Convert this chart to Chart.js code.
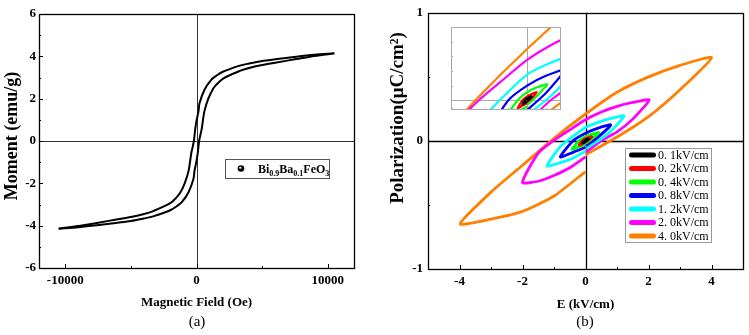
<!DOCTYPE html>
<html lang="en">
<head>
<meta charset="UTF-8" />
<title>M-H and P-E loops</title>
<style>
  body { margin: 0; background: #fff; width: 749px; height: 335px; position: relative; overflow: hidden; }
  canvas { position: absolute; }
  #chartA { left: 0; top: 0; }
  #chartB { left: 374px; top: 0; }
  #inset { left: 450px; top: 26px; }
  .tag { position: absolute; top: 313px; font-family: "Liberation Serif", serif; font-size: 15px; transform: translateX(-50%); }
</style>
</head>
<body>
<canvas id="chartA" width="375" height="335"></canvas>
<canvas id="chartB" width="375" height="335"></canvas>
<canvas id="inset" width="112" height="85"></canvas>
<div class="tag" style="left:197px">(a)</div>
<div class="tag" style="left:585px">(b)</div>
<script src="https://cdn.jsdelivr.net/npm/chart.js"></script>
<script>
// ---- (a) M-H loop ----
const fieldDown = [10500, 9000, 7600, 6000, 5000, 4000, 3300, 2000, 1500, 1100, 600, 230, 150, 50, 0, -100, -200, -300, -400, -600, -900, -1245, -1500, -2000, -3300, -4000, -5000, -6000, -7600, -9000, -10500];
const momentDown = [4.14, 4.07, 3.98, 3.86, 3.78, 3.66, 3.56, 3.27, 3.08, 2.88, 2.41, 1.78, 1.4, 1.1, 0.95, 0.55, 0.0, -0.3, -0.58, -1.4, -2.0, -2.45, -2.65, -2.94, -3.31, -3.45, -3.59, -3.70, -3.87, -4.02, -4.14];
const fieldUp = [-10500, -9000, -7600, -6000, -5000, -4000, -3300, -2000, -1500, -1100, -600, -230, -150, -50, 0, 100, 200, 300, 400, 600, 900, 1245, 1500, 2000, 3300, 4000, 5000, 6000, 7600, 9000, 10500];
const momentUp = [-4.14, -4.07, -3.98, -3.86, -3.78, -3.66, -3.56, -3.27, -3.08, -2.88, -2.41, -1.78, -1.4, -1.1, -0.95, -0.55, 0.0, 0.3, 0.58, 1.4, 2.0, 2.45, 2.65, 2.94, 3.31, 3.45, 3.59, 3.70, 3.87, 4.02, 4.14];
const sampleName = 'Bi0.9Ba0.1FeO3';
const sampleParts = [['Bi', 0], ['0.9', 1], ['Ba', 0], ['0.1', 1], ['FeO', 0], ['3', 1]];
const hMajor = [-10000, 0, 10000];
const hMinor = [-5000, 5000];
const mMajor = [-6, -4, -2, 0, 2, 4, 6];
const mMinor = [-5, -3, -1, 1, 3, 5];

// ---- (b) P-E loops (E in kV/cm, P in uC/cm2) ----
const loopLabels = ['0. 1kV/cm', '0. 2kV/cm', '0. 4kV/cm', '0. 8kV/cm', '1. 2kV/cm', '2. 0kV/cm', '4. 0kV/cm'];
const e01 = [0, 0.05, 0.1, 0.05, 0, -0.05, -0.1, -0.05, 0];
const p01 = [-0.004, 0.004, 0.016, 0.013, 0.008, 0.0, -0.016, -0.011, -0.006];
const e02 = [0, 0.1, 0.2, 0.1, 0, -0.1, -0.2, -0.1, 0];
const p02 = [-0.008, 0.009, 0.033, 0.026, 0.016, 0.0, -0.033, -0.022, -0.012];
const e04 = [0, 0.2, 0.43, 0.2, 0, -0.2, -0.43, -0.2, 0];
const p04 = [-0.02, 0.016, 0.065, 0.052, 0.032, 0.0, -0.065, -0.046, -0.026];
const e08 = [0, 0.4, 0.8, 0.4, 0, -0.4, -0.8, -0.4, 0];
const p08 = [-0.04, 0.03, 0.125, 0.1, 0.06, 0.0, -0.125, -0.09, -0.05];
const e12 = [0, 0.4, 0.8, 1.22, 0.8, 0.4, 0, -0.4, -0.8, -1.22, -0.8, -0.4, 0];
const p12 = [-0.06, 0.0, 0.075, 0.195, 0.175, 0.145, 0.105, 0.035, -0.045, -0.195, -0.17, -0.135, -0.08];
const e20 = [0, 0.5, 1, 1.5, 2.02, 1.5, 1, 0.5, 0, -0.5, -1, -1.5, -2.0, -1.5, -1, -0.5, 0];
const p20 = [-0.09, 0.0, 0.07, 0.17, 0.32, 0.3, 0.27, 0.225, 0.165, 0.086, 0.005, -0.095, -0.324, -0.315, -0.27, -0.21, -0.125];
const e40 = [0, 1, 2, 3, 4, 3, 2, 1, 0, -1, -2, -3, -3.98, -3, -2, -1, 0];
const p40 = [-0.11, 0.03, 0.19, 0.4, 0.65, 0.59, 0.5, 0.38, 0.21, 0.02, -0.19, -0.4, -0.648, -0.61, -0.55, -0.43, -0.24];
const loopE = [e01, e02, e04, e08, e12, e20, e40];
const loopP = [p01, p02, p04, p08, p12, p20, p40];
const loopColors = ['#000000', '#ff0000', '#00ff00', '#0000ff', '#00ffff', '#ff00ff', '#ff8000'];
const eMajor = [-4, -2, 0, 2, 4];
const eMinor = [-3, -1, 1, 3];
const pMajor = [-1, 0, 1];
const pMinor = [-0.5, 0.5];
// inset: zoomed view round the small loops
const insetETicks = [-1.6, -1.2, -0.8, -0.4, 0, 0.4];
const insetPTicks = [0, 0.06, 0.12, 0.18, 0.24];

const serif = "'Liberation Serif', 'Times New Roman', serif";
const pts = (xs, ys) => xs.map((v, i) => ({ x: v, y: ys[i] }));

// frame, zero lines and inward ticks
const frame = {
  id: 'frame',
  beforeDatasetsDraw(chart, args, o) {
    const { ctx, chartArea: a, scales: { x, y } } = chart;
    ctx.save();
    ctx.strokeStyle = o.zeroColor;
    ctx.lineWidth = o.zeroWidth;
    const x0 = Math.round(x.getPixelForValue(0)) + 0.5, y0 = Math.round(y.getPixelForValue(0)) + 0.5;
    ctx.beginPath();
    ctx.moveTo(x0, a.top); ctx.lineTo(x0, a.bottom);
    ctx.moveTo(a.left, y0); ctx.lineTo(a.right, y0);
    ctx.stroke();
    ctx.restore();
  },
  afterDatasetsDraw(chart, args, o) {
    const { ctx, chartArea: a, scales: { x, y } } = chart;
    ctx.save();
    ctx.strokeStyle = o.color;
    ctx.lineWidth = 1;
    ctx.beginPath();
    const tx = (vals, len) => vals.forEach(v => {
      const p = Math.round(x.getPixelForValue(v)) + 0.5;
      ctx.moveTo(p, a.bottom); ctx.lineTo(p, a.bottom - len);
    });
    const ty = (vals, len) => vals.forEach(v => {
      const p = Math.round(y.getPixelForValue(v)) + 0.5;
      ctx.moveTo(a.left, p); ctx.lineTo(a.left + len, p);
    });
    tx(o.xMajor, o.major); tx(o.xMinor, o.minor);
    ty(o.yMajor, o.major); ty(o.yMinor, o.minor);
    ctx.stroke();
    ctx.lineWidth = o.width;
    ctx.strokeRect(Math.round(a.left) + 0.5, Math.round(a.top) + 0.5, Math.round(a.width), Math.round(a.height));
    // rotated y-axis title
    ctx.translate(o.titleX, o.titleY);
    ctx.rotate(-Math.PI / 2);
    ctx.fillStyle = '#000';
    ctx.font = 'bold ' + o.titleSize + 'px ' + serif;
    ctx.textAlign = 'center';
    ctx.textBaseline = 'middle';
    ctx.fillText(o.title, 0, 0);
    ctx.restore();
  }
};

// (a) sample key with subscripts
const sampleKey = {
  id: 'sampleKey',
  afterDraw(chart, args, o) {
    const ctx = chart.ctx;
    ctx.save();
    ctx.strokeStyle = '#555';
    ctx.lineWidth = 1;
    ctx.strokeRect(o.left + 0.5, o.top + 0.5, o.width, o.height);
    const cy = o.top + o.height / 2;
    const g = ctx.createRadialGradient(o.left + 15, cy - 1, 0.3, o.left + 16, cy, 3.4);
    g.addColorStop(0, '#fff'); g.addColorStop(0.45, '#000'); g.addColorStop(1, '#000');
    ctx.fillStyle = g;
    ctx.beginPath(); ctx.arc(o.left + 16, cy, 3.3, 0, Math.PI * 2); ctx.fill();
    ctx.fillStyle = '#000';
    ctx.textBaseline = 'alphabetic';
    let x = o.left + 33;
    sampleParts.forEach(([t, sub]) => {
      ctx.font = sub ? 'bold 8px ' + serif : 'bold 12px ' + serif;
      ctx.fillText(t, x, cy + 4.5 + (sub ? 3 : 0));
      x += ctx.measureText(t).width;
    });
    ctx.restore();
  }
};

// (b) key with thick line samples
const loopKey = {
  id: 'loopKey',
  afterDraw(chart, args, o) {
    const ctx = chart.ctx;
    ctx.save();
    ctx.fillStyle = '#fff';
    ctx.fillRect(o.left, o.top, o.width, o.height);
    ctx.strokeStyle = '#999';
    ctx.lineWidth = 1;
    ctx.strokeRect(o.left + 0.5, o.top + 0.5, o.width, o.height);
    chart.data.datasets.forEach((ds, i) => {
      const y = o.top + o.first + i * o.step;
      ctx.strokeStyle = ds.borderColor;
      ctx.lineWidth = 5;
      ctx.lineCap = 'round';
      ctx.beginPath(); ctx.moveTo(o.left + 6.5, y); ctx.lineTo(o.left + 28.5, y); ctx.stroke();
      ctx.fillStyle = '#000';
      ctx.font = '12px ' + serif;
      ctx.textAlign = 'left';
      ctx.textBaseline = 'middle';
      ctx.fillText(ds.label, o.left + 33, y + 0.5);
    });
    ctx.restore();
  }
};

// inset background, grey frame, cross and small ticks
const insetFrame = {
  id: 'insetFrame',
  beforeDatasetsDraw(chart) {
    const { ctx, chartArea: a, scales: { x, y } } = chart;
    ctx.save();
    ctx.fillStyle = '#fff';
    ctx.fillRect(0, 0, chart.width, chart.height);
    ctx.strokeStyle = '#aaa';
    ctx.lineWidth = 1;
    ctx.beginPath();
    const x0 = Math.round(x.getPixelForValue(0)) + 0.5, y0 = Math.round(y.getPixelForValue(0)) + 0.5;
    ctx.moveTo(x0, a.top); ctx.lineTo(x0, a.bottom);
    ctx.moveTo(a.left, y0); ctx.lineTo(a.right, y0);
    insetETicks.forEach(v => { const p = Math.round(x.getPixelForValue(v)) + 0.5; ctx.moveTo(p, a.bottom); ctx.lineTo(p, a.bottom - 2); });
    insetPTicks.forEach(v => { const p = Math.round(y.getPixelForValue(v)) + 0.5; ctx.moveTo(a.left, p); ctx.lineTo(a.left + 2, p); });
    ctx.stroke();
    ctx.restore();
  },
  afterDatasetsDraw(chart) {
    const { ctx, chartArea: a } = chart;
    ctx.save();
    ctx.strokeStyle = '#aaa';
    ctx.strokeRect(Math.round(a.left) + 0.5, Math.round(a.top) + 0.5, Math.round(a.width) - 1, Math.round(a.height) - 1);
    ctx.restore();
  }
};

const tickFont = { family: serif, size: 13, weight: 'bold' };
function axis(min, max, ticks, labelled, pad, extra) {
  return Object.assign({
    type: 'linear', min: min, max: max,
    afterBuildTicks: s => { s.ticks = ticks.map(v => ({ value: v })); },
    grid: { display: false, drawTicks: false },
    border: { display: false },
    ticks: { color: '#000', font: tickFont, autoSkip: false, maxRotation: 0, padding: pad,
      callback: v => labelled.includes(v) ? String(v) : '' }
  }, extra);
}

// ---- chart (a) ----
new Chart(document.getElementById('chartA'), {
  type: 'scatter',
  data: {
    datasets: [
      { label: sampleName, data: pts(fieldDown, momentDown), showLine: true, borderColor: '#000', backgroundColor: '#000', borderWidth: 2, pointRadius: 0, tension: 0.3 },
      { label: sampleName, data: pts(fieldUp, momentUp), showLine: true, borderColor: '#000', backgroundColor: '#000', borderWidth: 2, pointRadius: 0, tension: 0.3 }
    ]
  },
  options: {
    responsive: false, animation: false,
    layout: { padding: { top: 14, right: 21, left: 0, bottom: 0 } },
    plugins: {
      legend: { display: false }, tooltip: { enabled: false },
      frame: { color: '#000', width: 1.3, zeroColor: '#333', zeroWidth: 1, major: 4, minor: 2,
        xMajor: hMajor, xMinor: hMinor, yMajor: mMajor, yMinor: mMinor,
        title: 'Moment (emu/g)', titleSize: 18, titleX: 12, titleY: 136 },
      sampleKey: { left: 225, top: 159, width: 104, height: 19 }
    },
    scales: {
      x: axis(-12000, 12000, hMajor.concat(hMinor), hMajor, 5, {
        afterFit: s => { s.height = 67; },
        title: { display: true, text: 'Magnetic Field (Oe)', color: '#000', font: { family: serif, size: 13, weight: 'bold' }, padding: { top: 0, bottom: 25 } }
      }),
      y: axis(-6, 6, mMajor.concat(mMinor), mMajor, 3, {
        afterFit: s => { s.width = 39; }
      })
    }
  },
  plugins: [frame, sampleKey]
});

// ---- chart (b) ----
const loopSets = loopLabels.map((lab, i) => ({
  label: lab, data: pts(loopE[i], loopP[i]), showLine: true,
  borderColor: loopColors[i], backgroundColor: loopColors[i], borderWidth: 2.8, pointRadius: 0, tension: 0.2
}));

new Chart(document.getElementById('chartB'), {
  type: 'scatter',
  data: { datasets: loopSets },
  options: {
    responsive: false, animation: false,
    layout: { padding: { top: 12, right: 6, left: 0, bottom: 0 } },
    plugins: {
      legend: { display: false }, tooltip: { enabled: false },
      frame: { color: '#000', width: 1.3, zeroColor: '#000', zeroWidth: 1.3, major: 4, minor: 2,
        xMajor: eMajor, xMinor: eMinor, yMajor: pMajor, yMinor: pMinor,
        title: 'Polarization(μC/cm²)', titleSize: 19, titleX: 24, titleY: 118 },
      loopKey: { left: 251, top: 148, width: 86, height: 94, first: 7, step: 13.5 }
    },
    scales: {
      x: axis(-5, 5, eMajor.concat(eMinor), eMajor, 5, {
        afterFit: s => { s.height = 66; },
        title: { display: true, text: 'E (kV/cm)', color: '#000', font: { family: serif, size: 13, weight: 'bold' }, padding: { top: 0, bottom: 23 } }
      }),
      y: axis(-1, 1, pMajor.concat(pMinor), pMajor, 5, {
        afterFit: s => { s.width = 54; }
      })
    }
  },
  plugins: [frame, loopKey]
});

// ---- inset ----
new Chart(document.getElementById('inset'), {
  type: 'scatter',
  data: {
    datasets: loopLabels.map((lab, i) => ({
      label: lab, data: pts(loopE[i], loopP[i]), showLine: true,
      borderColor: loopColors[i], borderWidth: 2.2, pointRadius: 0, tension: 0.2
    }))
  },
  options: {
    responsive: false, animation: false,
    layout: { padding: 1 },
    plugins: { legend: { display: false }, tooltip: { enabled: false } },
    scales: {
      x: { type: 'linear', min: -1.62, max: 0.72, display: false },
      y: { type: 'linear', min: -0.04, max: 0.30, display: false }
    }
  },
  plugins: [insetFrame]
});
</script>
</body>
</html>
